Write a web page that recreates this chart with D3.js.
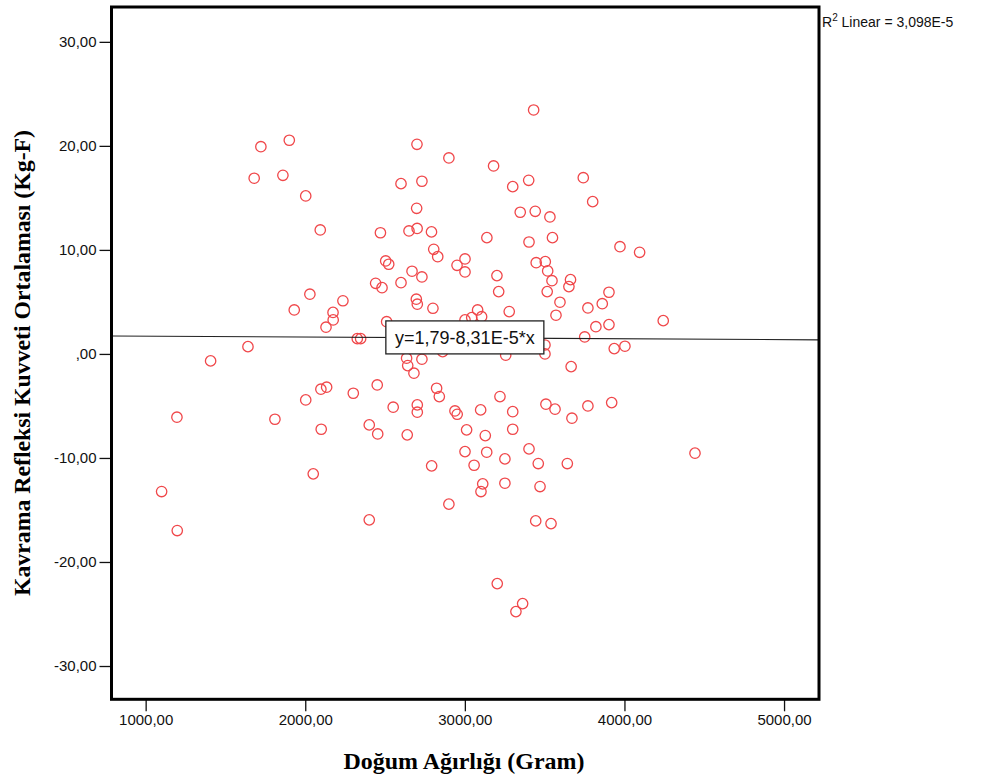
<!DOCTYPE html>
<html>
<head>
<meta charset="utf-8">
<script src="https://cdn.jsdelivr.net/npm/d3@7"></script>
<style>
  body { margin: 0; background: #fff; }
  .tick text { font-family: "Liberation Sans", Arial, sans-serif; font-size: 15px; fill: #111; }
  .tick line { stroke: #111; stroke-width: 1.3; }
  .axis-title { font-family: "Liberation Serif", "Times New Roman", serif; font-weight: bold; font-size: 23px; fill: #000; }
</style>
</head>
<body>
<svg id="chart"></svg>
<script>
// Doğum ağırlığı (gram) and kavrama refleksi (Kg-F)
var weights = [1722, 1900, 1680, 1860, 2003, 2094, 3431, 2700, 2900, 3180,
  2600, 2731, 3300, 3400, 2698, 3347, 3441, 3533, 2471, 2650,
  2701, 2791, 3138, 3402, 3549, 3742, 3801, 2504, 2523, 2805,
  2830, 2951, 3001, 3001, 2669, 2731, 2600, 2441, 2481, 3201,
  3212, 3447, 3504, 3519, 3546, 3662, 3652, 3516, 3596, 3571,
  2696, 2702, 2800, 2236, 2174, 2175, 3278, 3080, 3105, 3043,
  3001, 2510, 2326, 2347, 3256, 2861, 3502, 3502, 2635, 2642,
  2681, 2731, 3666, 2451, 2301, 2823, 2840, 3220, 2551, 2702,
  2702, 2938, 2952, 3099, 3300, 3508, 3565, 3671, 2401, 2454,
  2639, 3011, 3128, 3300, 3001, 3137, 3251, 3402, 2792, 3058,
  3460, 3642, 3112, 3101, 3251, 3471, 2900, 2401, 3444, 3540,
  3203, 3362, 3320, 2029, 1931, 2130, 1641, 1407, 2098, 2134,
  2003, 1196, 1810, 2100, 2050, 1100, 1198, 3972, 4095, 3903,
  3861, 3771, 3821, 3903, 4243, 3751, 3936, 4003, 3771, 3920,
  4442];
var forces = [19.92, 20.54, 16.89, 17.17, 15.19, 11.92, 23.45, 20.15, 18.84, 18.07,
  16.37, 16.60, 16.08, 16.69, 14.00, 13.62, 13.71, 13.17, 11.65, 11.82,
  12.06, 11.73, 11.18, 10.76, 11.18, 16.94, 14.64, 8.94, 8.62, 10.06,
  9.35, 8.52, 9.13, 7.88, 7.95, 7.40, 6.85, 6.79, 6.37, 7.53,
  5.99, 8.77, 8.87, 7.98, 7.04, 7.14, 6.47, 5.99, 4.97, 3.72,
  5.26, 4.78, 4.39, 5.11, 3.99, 3.27, 4.07, 4.23, 3.58, 3.49,
  3.27, 3.10, 1.47, 1.47, -0.12, 0.22, 0.86, 0.00, -0.41, -1.12,
  -1.85, -0.51, -1.22, -2.98, -3.78, -3.30, -4.10, -4.10, -5.12, -4.90,
  -5.60, -5.48, -5.80, -5.38, -5.55, -4.83, -5.31, -6.18, -6.82, -7.69,
  -7.78, -7.30, -7.85, -7.24, -9.39, -9.45, -10.09, -9.13, -10.76, -10.70,
  -10.54, -10.54, -12.49, -13.23, -12.43, -12.75, -14.44, -15.95, -16.05, -16.31,
  -22.08, -24.00, -24.77, 5.74, 4.23, 2.57, 0.70, -0.67, -3.39, -3.20,
  -4.42, -6.08, -6.28, -7.24, -11.53, -13.23, -16.98, 10.31, 9.77, 5.93,
  4.83, 4.42, 2.62, 2.82, 3.20, 1.63, 0.51, 0.74, -5.00, -4.68,
  -9.54];

var xTicks = [1000, 2000, 3000, 4000, 5000];
var yTicks = [-30, -20, -10, 0, 10, 20, 30];
var xDomain = [786, 5219];
var yDomain = [-33.2, 33.35];

var fitIntercept = 1.79;
var fitSlope = -8.31e-5;
var fitLabel = "y=1,79-8,31E-5*x";
var r2Value = "3,098E-5";

var xTitle = "Doğum Ağırlığı (Gram)";
var yTitle = "Kavrama Refleksi Kuvveti Ortalaması (Kg-F)";

var W = 990, H = 780;
var margin = {top: 7, right: 171, bottom: 80.7, left: 111.5};
var width = W - margin.left - margin.right;
var height = H - margin.top - margin.bottom;

var svg = d3.select("#chart").attr("width", W).attr("height", H);
var chart = svg.append("g")
  .attr("transform", "translate(" + margin.left + "," + margin.top + ")");

var x = d3.scaleLinear().domain(xDomain).range([0, width]);
var y = d3.scaleLinear().domain(yDomain).range([height, 0]);

function fmt(d) {
  var s = d.toFixed(2).replace(".", ",");
  return d === 0 ? ",00" : s;
}

var xAxis = d3.axisBottom(x).tickValues(xTicks).tickFormat(fmt)
  .tickSize(12).tickSizeOuter(0).tickPadding(3);
var yAxis = d3.axisLeft(y).tickValues(yTicks).tickFormat(fmt)
  .tickSize(12).tickSizeOuter(0).tickPadding(3);

chart.append("g")
  .attr("class", "x axis")
  .attr("transform", "translate(0," + height + ")")
  .call(xAxis)
  .call(function(g) { g.select(".domain").remove(); });

chart.append("g")
  .attr("class", "y axis")
  .call(yAxis)
  .call(function(g) { g.select(".domain").remove(); });

// points
chart.selectAll(".dot")
  .data(weights.map(function(w, i) { return {w: w, f: forces[i]}; }))
  .enter().append("circle")
  .attr("class", "dot")
  .attr("cx", function(d) { return x(d.w); })
  .attr("cy", function(d) { return y(d.f); })
  .attr("r", 5.2)
  .style("fill", "none")
  .style("stroke", "#f0474a")
  .style("stroke-width", 1.3);

// fit line
chart.append("line")
  .attr("x1", x(xDomain[0]))
  .attr("y1", y(fitIntercept + fitSlope * xDomain[0]))
  .attr("x2", x(xDomain[1]))
  .attr("y2", y(fitIntercept + fitSlope * xDomain[1]))
  .style("stroke", "#222")
  .style("stroke-width", 1.2);

// equation label
var labX = 3000;
var labG = chart.append("g")
  .attr("transform", "translate(" + x(labX) + "," + y(fitIntercept + fitSlope * labX) + ")");
labG.append("rect")
  .attr("x", -79).attr("y", -17)
  .attr("width", 158).attr("height", 33)
  .style("fill", "#fff")
  .style("stroke", "#222")
  .style("stroke-width", 1.3);
labG.append("text")
  .attr("x", 0).attr("y", 6.5)
  .attr("text-anchor", "middle")
  .style("font-family", "'Liberation Sans', Arial, sans-serif")
  .style("font-size", "18px")
  .style("fill", "#111")
  .text(fitLabel);

// frame
chart.append("rect")
  .attr("x", 0).attr("y", 0)
  .attr("width", width).attr("height", height)
  .style("fill", "none")
  .style("stroke", "#000")
  .style("stroke-width", 3);

// R2 note
var r2 = svg.append("text")
  .attr("x", margin.left + width + 3)
  .attr("y", 27)
  .style("font-family", "'Liberation Sans', Arial, sans-serif")
  .style("font-size", "14px")
  .style("fill", "#111");
r2.append("tspan").text("R");
r2.append("tspan").attr("dy", -6).style("font-size", "10px").text("2");
r2.append("tspan").attr("dy", 6).text(" Linear = " + r2Value);

// axis titles
svg.append("text")
  .attr("class", "axis-title")
  .attr("x", 464)
  .attr("y", 769)
  .attr("text-anchor", "middle")
  .attr("textLength", 241)
  .attr("lengthAdjust", "spacingAndGlyphs")
  .text(xTitle);

svg.append("text")
  .attr("class", "axis-title")
  .attr("transform", "rotate(-90)")
  .attr("x", -363)
  .attr("y", 30)
  .attr("text-anchor", "middle")
  .attr("textLength", 466)
  .attr("lengthAdjust", "spacingAndGlyphs")
  .text(yTitle);
</script>
</body>
</html>
